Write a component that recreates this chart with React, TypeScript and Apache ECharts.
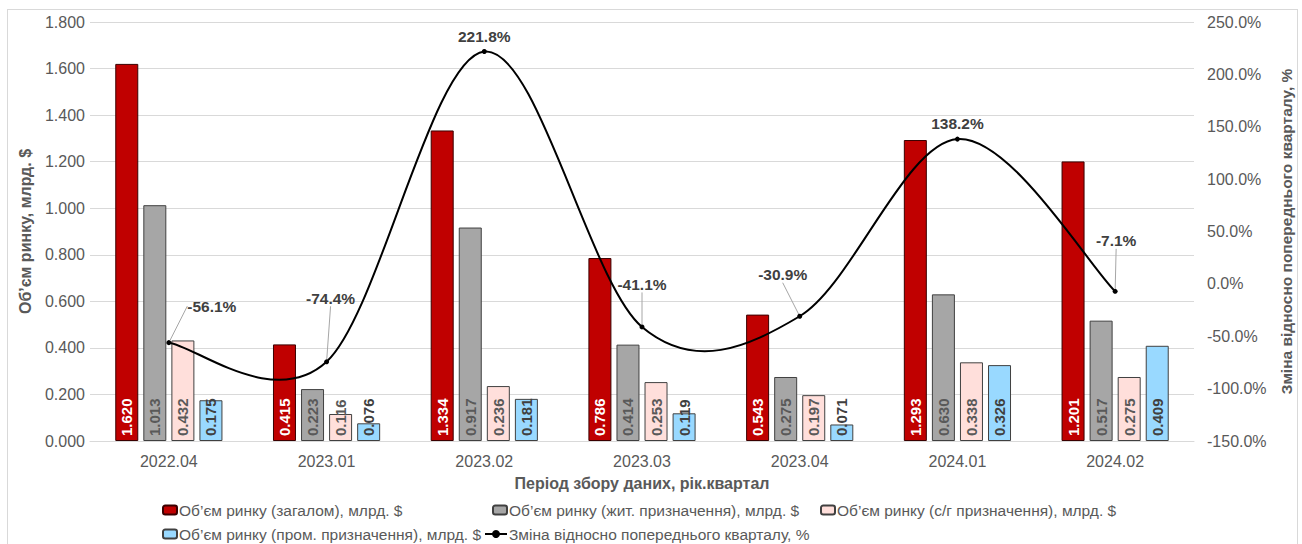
import React, { useEffect, useRef } from "react";
import * as echarts from "echarts";

const categories = ["2022.04", "2023.01", "2023.02", "2023.03", "2023.04", "2024.01", "2024.02"];
const totalVals = [1.62, 0.415, 1.334, 0.786, 0.543, 1.293, 1.201];
const residentialVals = [1.013, 0.223, 0.917, 0.414, 0.275, 0.63, 0.517];
const agriVals = [0.432, 0.116, 0.236, 0.253, 0.197, 0.338, 0.275];
const industrialVals = [0.175, 0.076, 0.181, 0.119, 0.071, 0.326, 0.409];
const changePct = [-56.1, -74.4, 221.8, -41.1, -30.9, 138.2, -7.1];

const seriesNames = [
  "Об’єм ринку (загалом), млрд. $",
  "Об’єм ринку (жит. призначення), млрд. $",
  "Об’єм ринку (с/г призначення), млрд. $",
  "Об’єм ринку (пром. призначення), млрд. $",
  "Зміна відносно попереднього кварталу, %",
];

// label displacement for the % labels (dx, dy) and whether a leader line is drawn
const labelShifts = [
  { dx: 43, dy: -21, guide: true },
  { dx: 4, dy: -48, guide: true },
  { dx: 0, dy: 0, guide: false },
  { dx: 0, dy: -27, guide: true },
  { dx: -17, dy: -26, guide: true },
  { dx: 0, dy: 0, guide: false },
  { dx: 1, dy: -35, guide: true },
];

const FONT = "'Liberation Sans', Arial, sans-serif";
const TXT = "#595959";

export default function App() {
  const ref = useRef<HTMLDivElement>(null);

  useEffect(() => {
    if (!ref.current) return;
    const chart = echarts.init(ref.current, null, { renderer: "svg" });
    const n = changePct.length;

    const barLabel = (color: string) => ({
      show: true,
      position: "insideBottom",
      rotate: 90,
      align: "left",
      verticalAlign: "middle",
      distance: 5,
      color,
      fontSize: 15,
      fontWeight: "bold",
      fontFamily: FONT,
      formatter: (p: any) => Number(p.value).toFixed(3),
    });

    const barSeries = (name: string, data: number[], fill: string, border: string, labelColor: string) => ({
      type: "bar",
      name,
      data,
      yAxisIndex: 0,
      barWidth: 23,
      barGap: "22%",
      itemStyle: { color: fill, borderColor: border, borderWidth: 1 },
      label: barLabel(labelColor),
      z: 2,
    });

    const legendBase = (name: string, left: number, top: number, extra: any = {}) => ({
      data: [name],
      left,
      top,
      padding: 0,
      itemWidth: 14,
      itemHeight: 9,
      itemGap: 0,
      textStyle: { color: TXT, fontSize: 15.5, fontFamily: FONT, padding: [0, 0, 0, -3] },
      selectedMode: false,
      ...extra,
    });

    const option: any = {
      animation: false,
      textStyle: { fontFamily: FONT },
      grid: { left: 90, right: 108, top: 22, bottom: 103, containLabel: false },
      legend: [
        legendBase(seriesNames[0], 162, 502),
        legendBase(seriesNames[1], 492, 502),
        legendBase(seriesNames[2], 820, 502),
        legendBase(seriesNames[3], 162, 526),
        legendBase(seriesNames[4], 484, 526, {
          itemWidth: 22,
          itemHeight: 10,
          lineStyle: { color: "#000", width: 2, opacity: 1 },
        }),
      ],
      xAxis: {
        type: "category",
        data: categories,
        axisLine: { lineStyle: { color: "#d9d9d9" } },
        axisTick: { show: false },
        axisLabel: { color: TXT, fontSize: 16, fontFamily: FONT, margin: 12 },
        name: "Період збору даних, рік.квартал",
        nameLocation: "middle",
        nameGap: 34,
        nameTextStyle: { color: TXT, fontSize: 16, fontWeight: "bold", fontFamily: FONT },
      },
      yAxis: [
        {
          type: "value",
          min: 0,
          max: 1.8,
          interval: 0.2,
          axisLine: { show: false },
          axisTick: { show: false },
          splitLine: { lineStyle: { color: "#d9d9d9", width: 1 } },
          axisLabel: {
            color: TXT,
            fontSize: 16,
            fontFamily: FONT,
            margin: 5,
            formatter: (v: number) => v.toFixed(3),
          },
          name: "Об’єм ринку, млрд. $",
          nameLocation: "middle",
          nameRotate: 90,
          nameGap: 57,
          nameTextStyle: { color: TXT, fontSize: 16, fontWeight: "bold", fontFamily: FONT },
        },
        {
          type: "value",
          min: -150,
          max: 250,
          interval: 50,
          position: "right",
          axisLine: { show: false },
          axisTick: { show: false },
          splitLine: { show: false },
          axisLabel: {
            color: TXT,
            fontSize: 16,
            fontFamily: FONT,
            margin: 13,
            formatter: (v: number) => v.toFixed(1) + "%",
          },
          name: "Зміна відносно попереднього кварталу, %",
          nameLocation: "middle",
          nameRotate: 90,
          nameGap: 84,
          nameTextStyle: { color: TXT, fontSize: 15.5, fontWeight: "bold", fontFamily: FONT },
        },
      ],
      series: [
        barSeries(seriesNames[0], totalVals, "#C00000", "#3a0000", "#ffffff"),
        barSeries(seriesNames[1], residentialVals, "#A6A6A6", "#404040", "#595959"),
        barSeries(seriesNames[2], agriVals, "#FFDFDB", "#404040", "#595959"),
        barSeries(seriesNames[3], industrialVals, "#99D9FF", "#404040", "#404040"),
        {
          type: "custom",
          name: "curve",
          xAxisIndex: 0,
          yAxisIndex: 1,
          data: changePct.map((v, i) => [i, v]),
          encode: { x: 0, y: 1 },
          z: 3,
          silent: true,
          renderItem: (params: any, api: any) => {
            const i = params.dataIndex;
            if (i >= n - 1) return null;
            const pt = (j: number) => {
              const k = Math.max(0, Math.min(n - 1, j));
              return api.coord([k, changePct[k]]);
            };
            const p0 = pt(i - 1);
            const p1 = pt(i);
            const p2 = pt(i + 1);
            const p3 = pt(i + 2);
            const t = 1 / 6;
            return {
              type: "bezierCurve",
              shape: {
                x1: p1[0],
                y1: p1[1],
                x2: p2[0],
                y2: p2[1],
                cpx1: p1[0] + (p2[0] - p0[0]) * t,
                cpy1: p1[1] + (p2[1] - p0[1]) * t,
                cpx2: p2[0] - (p3[0] - p1[0]) * t,
                cpy2: p2[1] - (p3[1] - p1[1]) * t,
              },
              style: { stroke: "#000", lineWidth: 2, fill: "none" },
            };
          },
        },
        {
          type: "line",
          name: seriesNames[4],
          yAxisIndex: 1,
          data: changePct.map((v, i) => ({
            value: v,
            labelLine: { show: labelShifts[i].guide },
          })),
          symbol: "circle",
          symbolSize: 5,
          itemStyle: { color: "#000" },
          lineStyle: { width: 0, opacity: 0, color: "#000" },
          z: 4,
          label: {
            show: true,
            position: "top",
            distance: 5,
            color: "#404040",
            fontSize: 15.5,
            fontWeight: "bold",
            fontFamily: FONT,
            formatter: (p: any) => Number(p.value).toFixed(1) + "%",
          },
          labelLine: { show: true, lineStyle: { color: "#a6a6a6", width: 1 } },
          labelLayout: (p: any) => ({
            dx: labelShifts[p.dataIndex].dx,
            dy: labelShifts[p.dataIndex].dy,
          }),
        },
      ],
    };

    chart.setOption(option);
    return () => chart.dispose();
  }, []);

  return (
    <div style={{ position: "fixed", left: 0, top: 0, width: 1302, height: 544, overflow: "hidden", background: "#fff" }}>
      <div
        style={{
          position: "absolute",
          left: 7,
          top: 9,
          width: 1291,
          height: 580,
          border: "1px solid #d9d9d9",
          boxSizing: "border-box",
        }}
      />
      <div ref={ref} style={{ position: "absolute", left: 0, top: 0, width: 1302, height: 544 }} />
    </div>
  );
}
